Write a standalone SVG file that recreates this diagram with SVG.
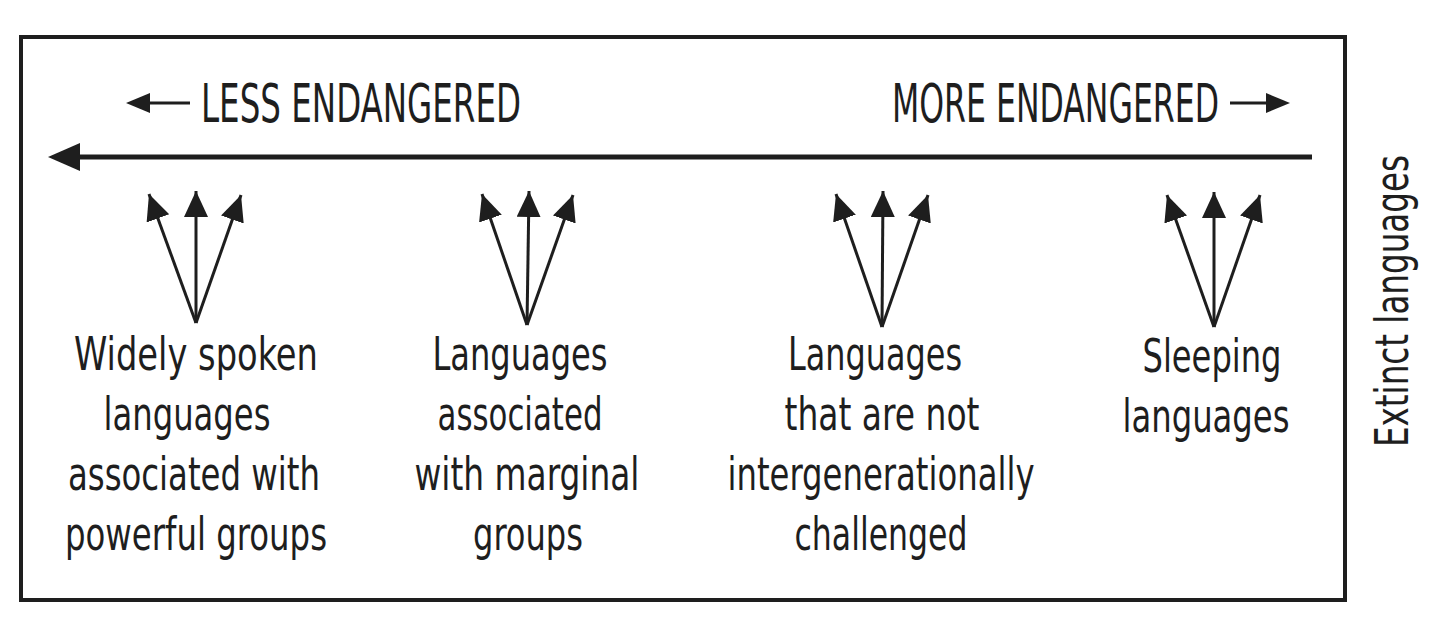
<svg xmlns="http://www.w3.org/2000/svg" width="1440" height="642" viewBox="0 0 1440 642">
<defs>
<style>
.t{font-family:"Liberation Sans Narrow","DejaVu Sans Condensed","Liberation Sans",sans-serif;fill:#1e1e1e;}
.body{font-size:46px;text-anchor:middle;}
.title{font-size:53px;}
.ln{stroke:#1e1e1e;fill:none;stroke-width:3;}
.head{fill:#1e1e1e;}
</style>
<marker id="ah" markerUnits="userSpaceOnUse" markerWidth="28" markerHeight="26" refX="26" refY="12" orient="auto" viewBox="0 0 28 26">
<path d="M0,0 L26,12 L0,24 Z" fill="#1e1e1e"/>
</marker>
</defs>
<rect width="1440" height="642" fill="#ffffff"/>
<rect id="frame" x="21" y="37" width="1324" height="563" fill="none" stroke="#1e1e1e" stroke-width="4"/>

<g id="less-label">
<text class="t title" x="201" y="122" textLength="320" lengthAdjust="spacingAndGlyphs">LESS ENDANGERED</text>
</g>
<g id="more-label">
<text class="t title" x="892" y="122" textLength="327" lengthAdjust="spacingAndGlyphs">MORE ENDANGERED</text>
</g>

<g id="node-widely">
<text class="t body" x="196" y="370" textLength="244" lengthAdjust="spacingAndGlyphs">Widely spoken</text>
<text class="t body" x="187" y="430" textLength="167" lengthAdjust="spacingAndGlyphs">languages</text>
<text class="t body" x="194" y="490" textLength="252" lengthAdjust="spacingAndGlyphs">associated with</text>
<text class="t body" x="196" y="550" textLength="262" lengthAdjust="spacingAndGlyphs">powerful groups</text>
</g>
<g id="node-marginal">
<text class="t body" x="520" y="370" textLength="175" lengthAdjust="spacingAndGlyphs">Languages</text>
<text class="t body" x="520" y="430" textLength="165" lengthAdjust="spacingAndGlyphs">associated</text>
<text class="t body" x="527" y="490" textLength="225" lengthAdjust="spacingAndGlyphs">with marginal</text>
<text class="t body" x="528" y="550" textLength="110" lengthAdjust="spacingAndGlyphs">groups</text>
</g>
<g id="node-intergen">
<text class="t body" x="875" y="370" textLength="174" lengthAdjust="spacingAndGlyphs">Languages</text>
<text class="t body" x="882" y="430" textLength="195" lengthAdjust="spacingAndGlyphs">that are not</text>
<text class="t body" x="881" y="490" textLength="307" lengthAdjust="spacingAndGlyphs">intergenerationally</text>
<text class="t body" x="881" y="550" textLength="173" lengthAdjust="spacingAndGlyphs">challenged</text>
</g>
<g id="node-sleeping">
<text class="t body" x="1212" y="372" textLength="139" lengthAdjust="spacingAndGlyphs">Sleeping</text>
<text class="t body" x="1206" y="432" textLength="167" lengthAdjust="spacingAndGlyphs">languages</text>
</g>
<g id="node-extinct">
<text class="t body" transform="translate(1408,301) rotate(-90)" x="0" y="0" font-size="48" textLength="292" lengthAdjust="spacingAndGlyphs">Extinct languages</text>
</g>

<g id="connectors">
<line x1="1312" y1="157" x2="74" y2="157" stroke="#1e1e1e" stroke-width="5"/>
<path class="head" d="M48,157 L80,143 L80,171 Z"/>
<line class="ln" x1="190" y1="103" x2="146" y2="103"/>
<path class="head" d="M126,103 L150,93 L150,113 Z"/>
<line class="ln" x1="1230" y1="103" x2="1270" y2="103"/>
<path class="head" d="M1290,103 L1266,93 L1266,113 Z"/>

<g marker-end="url(#ah)" class="ln">
<line x1="196" y1="323" x2="149" y2="194"/>
<line x1="196" y1="323" x2="196" y2="191"/>
<line x1="196" y1="323" x2="241" y2="195"/>

<line x1="527" y1="325" x2="482" y2="194"/>
<line x1="527" y1="325" x2="529" y2="191"/>
<line x1="527" y1="325" x2="573" y2="195"/>

<line x1="882" y1="327" x2="836" y2="194"/>
<line x1="882" y1="327" x2="883" y2="191"/>
<line x1="882" y1="327" x2="928" y2="195"/>

<line x1="1214" y1="327" x2="1167" y2="195"/>
<line x1="1214" y1="327" x2="1214" y2="192"/>
<line x1="1214" y1="327" x2="1260" y2="195"/>
</g>
</g>
</svg>
